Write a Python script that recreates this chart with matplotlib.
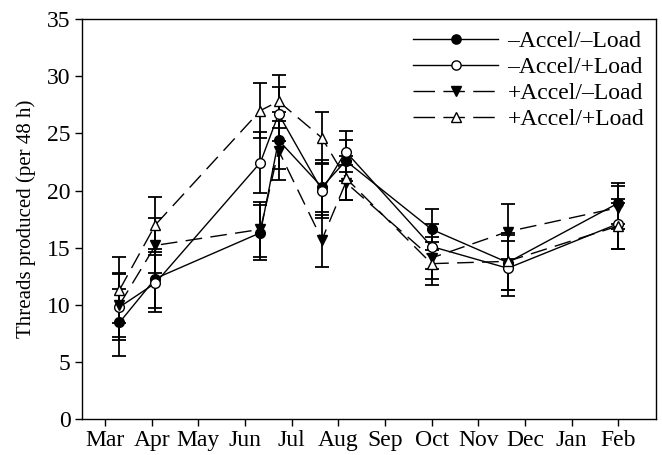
import matplotlib
matplotlib.use("Agg")
import matplotlib.pyplot as plt
from matplotlib.lines import Line2D

plt.rcParams['font.family'] = ['Liberation Serif', 'DejaVu Serif']

months = ["Mar", "Apr", "May", "Jun", "Jul", "Aug", "Sep", "Oct", "Nov", "Dec", "Jan", "Feb"]
# sampling positions (month index, Mar = 0)
x_pos = [0.31, 1.08, 3.33, 3.72, 4.65, 5.16, 7.0, 8.63, 11.0]

labels = ["\u2013Accel/\u2013Load", "\u2013Accel/+Load", "+Accel/\u2013Load", "+Accel/+Load"]

a_y = [8.45, 12.3, 16.3, 24.4, 20.3, 22.6, 16.6, 13.7, 18.9]
a_e = [2.9, 2.6, 2.4, 2.5, 2.4, 1.8, 1.8, 2.4, 1.8]

b_y = [9.8, 11.9, 22.45, 26.7, 20.0, 23.4, 15.1, 13.2, 17.1]
b_e = [2.9, 2.5, 2.7, 2.4, 2.4, 1.8, 2.0, 2.4, 2.2]

c_y = [10.0, 15.2, 16.6, 23.5, 15.7, 20.7, 14.1, 16.4, 18.5]
c_e = [2.8, 2.4, 2.4, 2.6, 2.4, 1.5, 1.8, 2.4, 1.9]

d_y = [11.3, 17.0, 27.0, 27.8, 24.6, 21.1, 13.6, 13.8, 16.9]
d_e = [2.9, 2.4, 2.4, 2.3, 2.3, 1.9, 1.9, 2.5, 2.0]

fig = plt.figure(figsize=(6.62, 4.55), dpi=100)
ax = fig.add_axes([0.1234, 0.079, 0.8676, 0.879])

dash = (0, (12, 6))
leg_dash = (0, (15.5, 6))
styles = [
    (a_y, a_e, 'o', 'black', '-', '-', 7),
    (b_y, b_e, 'o', 'white', '-', '-', 7),
    (c_y, c_e, 'v', 'black', dash, leg_dash, 7),
    (d_y, d_e, '^', 'white', dash, leg_dash, 7),
]

handles = []
for (y, e, m, fc, ls, lls, ms), lab in zip(styles, labels):
    ax.errorbar(x_pos, y, yerr=e, fmt='none', ecolor='black', elinewidth=1.3,
                capsize=5, capthick=1.3, zorder=2)
    ax.plot(x_pos, y, linestyle=ls, color='black', linewidth=1.0,
            marker=m, markersize=ms, markerfacecolor=fc,
            markeredgecolor='black', markeredgewidth=1.0, zorder=3)
    handles.append(Line2D([], [], linestyle=lls, color='black', linewidth=1.0,
                          marker=m, markersize=ms * 0.95, markerfacecolor=fc,
                          markeredgecolor='black', markeredgewidth=1.0, label=lab))

ax.set_xlim(-0.5, 11.81)
ax.set_ylim(0, 35)
ax.set_xticks(range(12))
ax.set_xticklabels(months)
ax.set_yticks(range(0, 36, 5))
ax.tick_params(axis='both', which='both', direction='out', length=5, width=1,
               labelsize=17, pad=3)
ax.tick_params(top=False, right=False)
for s in ax.spines.values():
    s.set_linewidth(1.0)

ax.set_ylabel("Threads produced (per 48 h)", fontsize=15, labelpad=8)

leg = ax.legend(handles=handles, loc='upper right', frameon=False, fontsize=17,
                handlelength=3.6, handletextpad=0.4, labelspacing=0.18,
                borderaxespad=0.1, bbox_to_anchor=(1.0, 1.0))

fig.savefig("out.png", dpi=100)
